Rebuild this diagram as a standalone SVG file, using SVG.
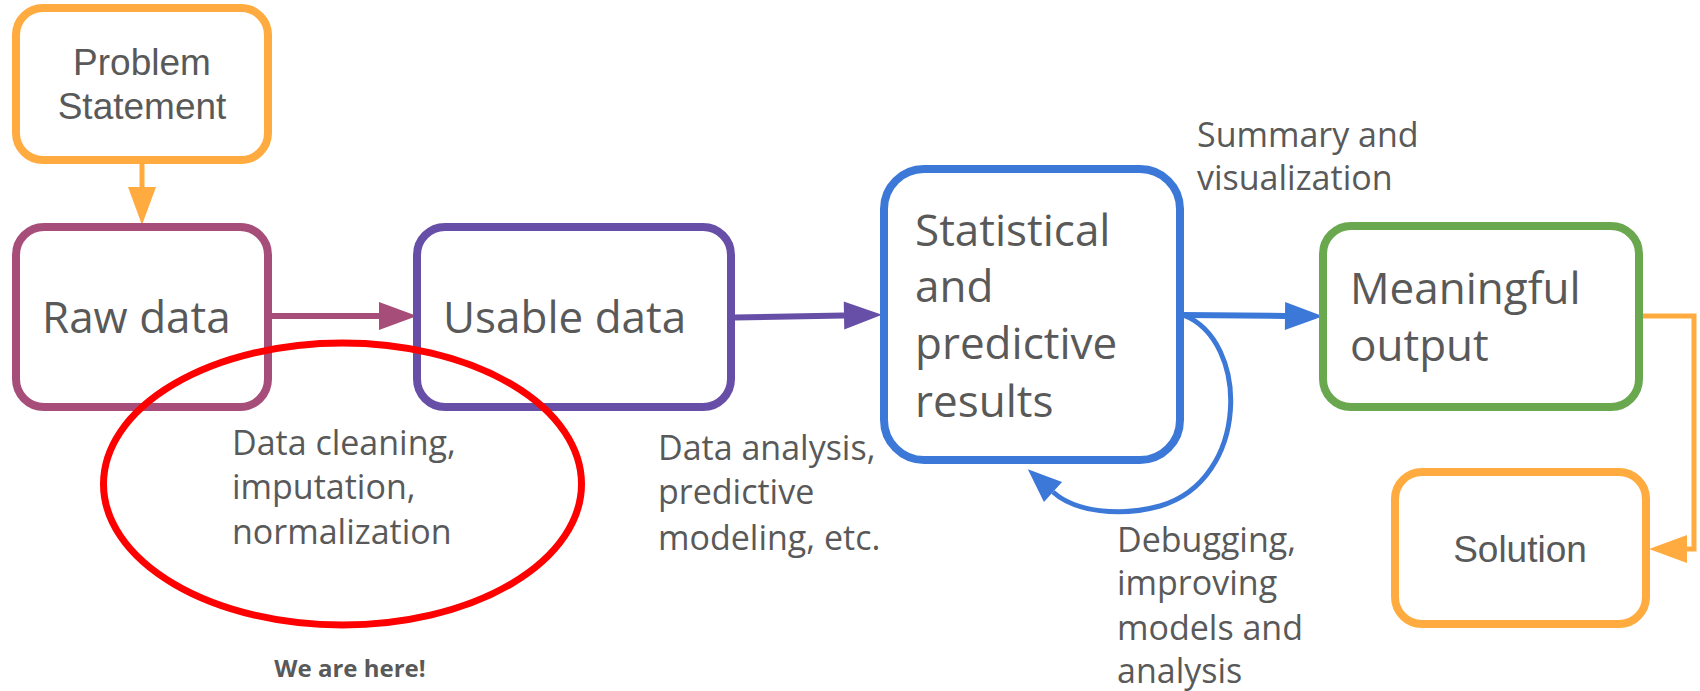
<svg xmlns="http://www.w3.org/2000/svg" width="1700" height="691" viewBox="0 0 1700 691">
<style>
.box{fill:#ffffff;stroke-width:8}
.big{font-family:"Open Sans","Noto Sans",sans-serif;font-size:44px;fill:#595959}
.small{font-family:"Open Sans","Noto Sans",sans-serif;font-size:34px;fill:#595959}
.arial{font-family:"Liberation Sans",Arial,sans-serif;font-size:37px;fill:#595959;text-anchor:middle}
.bold{font-family:"Open Sans","Noto Sans",sans-serif;font-size:24px;font-weight:bold;fill:#595959;text-anchor:middle}
.conn{fill:none}
</style>
<defs>
<marker id="ah-orange" markerUnits="userSpaceOnUse" markerWidth="40" markerHeight="30" refX="0" refY="14" orient="auto" overflow="visible"><path d="M0,0 L38,14 L0,28 z" fill="#FFAB40"/></marker>
<marker id="ah-rasp" markerUnits="userSpaceOnUse" markerWidth="40" markerHeight="30" refX="0" refY="14" orient="auto" overflow="visible"><path d="M0,0 L38,14 L0,28 z" fill="#A64D79"/></marker>
<marker id="ah-purple" markerUnits="userSpaceOnUse" markerWidth="40" markerHeight="30" refX="0" refY="14" orient="auto" overflow="visible"><path d="M0,0 L38,14 L0,28 z" fill="#674EA7"/></marker>
<marker id="ah-blue" markerUnits="userSpaceOnUse" markerWidth="40" markerHeight="30" refX="0" refY="14" orient="auto" overflow="visible"><path d="M0,0 L38,14 L0,28 z" fill="#3C78D8"/></marker>
<marker id="ah-blue2" markerUnits="userSpaceOnUse" markerWidth="40" markerHeight="30" refX="0" refY="13.5" orient="auto" overflow="visible"><path d="M0,0 L34,13.5 L0,27 z" fill="#3C78D8"/></marker>
</defs>
<rect width="1700" height="691" fill="#ffffff"/>

<g id="connectors">
<line class="conn" x1="142" y1="160" x2="142" y2="187" stroke="#FFAB40" stroke-width="5" marker-end="url(#ah-orange)"/>
<line class="conn" x1="272" y1="316" x2="379" y2="316" stroke="#A64D79" stroke-width="6" marker-end="url(#ah-rasp)"/>
<line class="conn" x1="735" y1="317.5" x2="844" y2="315.5" stroke="#674EA7" stroke-width="6" marker-end="url(#ah-purple)"/>
<line class="conn" x1="1183" y1="315" x2="1285" y2="316" stroke="#3C78D8" stroke-width="6" marker-end="url(#ah-blue)"/>
<path class="conn" d="M1183,315 C1250,340 1250,480 1160,506 C1120,517 1075,512 1053,492" stroke="#3C78D8" stroke-width="5" marker-end="url(#ah-blue2)"/>
<path class="conn" d="M1643,316 H1694 V549 H1687" stroke="#FFAB40" stroke-width="5" stroke-linejoin="miter" marker-end="url(#ah-orange)"/>
</g>

<g id="problem">
<rect class="box" x="16" y="8" width="252" height="152" rx="27" stroke="#FFAB40"/>
<text class="arial" x="142" y="75">Problem</text>
<text class="arial" x="142" y="119">Statement</text>
</g>

<g id="raw">
<rect class="box" x="16" y="227" width="252" height="180" rx="28" stroke="#A64D79"/>
<text class="big" x="42" y="333">Raw data</text>
</g>

<g id="usable">
<rect class="box" x="417" y="227" width="314" height="180" rx="28" stroke="#674EA7"/>
<text class="big" x="443" y="333">Usable data</text>
</g>

<g id="statistical">
<rect class="box" x="884" y="169" width="296" height="291" rx="40" stroke="#3C78D8"/>
<text class="big" x="915" y="246">Statistical</text>
<text class="big" x="915" y="302">and</text>
<text class="big" x="915" y="359">predictive</text>
<text class="big" x="915" y="417">results</text>
</g>

<g id="meaningful">
<rect class="box" x="1323" y="226" width="316" height="181" rx="28" stroke="#6AA84F"/>
<text class="big" x="1350" y="304">Meaningful</text>
<text class="big" x="1350" y="361">output</text>
</g>

<g id="solution">
<rect class="box" x="1395" y="472" width="251" height="152" rx="27" stroke="#FFAB40"/>
<text class="arial" x="1520" y="562">Solution</text>
</g>

<g id="labels">
<text class="small" x="1197" y="147">Summary and</text>
<text class="small" x="1197" y="190">visualization</text>
<text class="small" x="232" y="455">Data cleaning,</text>
<text class="small" x="232" y="499">imputation,</text>
<text class="small" x="232" y="544">normalization</text>
<text class="small" x="658" y="460">Data analysis,</text>
<text class="small" x="658" y="504">predictive</text>
<text class="small" x="658" y="550">modeling, etc.</text>
<text class="small" x="1117" y="552">Debugging,</text>
<text class="small" x="1117" y="595">improving</text>
<text class="small" x="1117" y="640">models and</text>
<text class="small" x="1117" y="683">analysis</text>
</g>

<g id="highlight">
<ellipse cx="342.5" cy="484" rx="239" ry="141" fill="none" stroke="#FF0000" stroke-width="7"/>
<text class="bold" x="350" y="677">We are here!</text>
</g>
</svg>
